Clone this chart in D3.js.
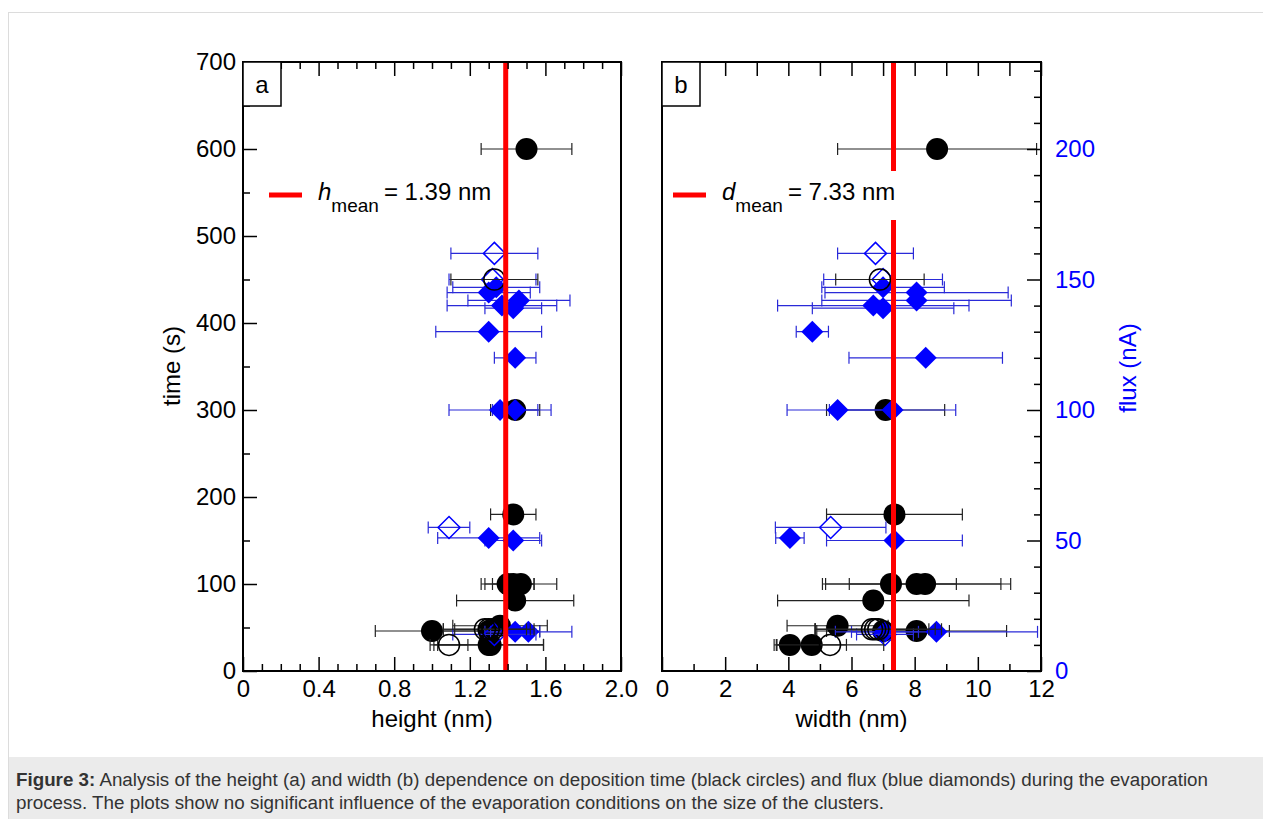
<!DOCTYPE html>
<html>
<head>
<meta charset="utf-8">
<script src="https://cdn.jsdelivr.net/npm/d3@7"></script>
<style>
body { margin: 0; background: #fff; }
svg { display: block; font-family: "Liberation Sans", Arial, sans-serif; }
</style>
</head>
<body>
<div id="chart"></div>
<script>
// time series: [time (s), value (nm), error (nm)]
const heightCircles = [[600,1.50,0.24],[300,1.44,0.13],[180,1.43,0.12],[100,1.40,0.14],[100,1.43,0.11],[100,1.47,0.19],[81,1.44,0.31],[52,1.36,0.25],[46,1.00,0.30],[46,1.30,0.27],[30,1.30,0.29],[30,1.31,0.28]];
const heightCirclesOpen = [[450,1.33,0.23],[48,1.28,0.22],[48,1.30,0.24],[48,1.32,0.20],[30,1.09,0.10]];
const widthCircles = [[600,8.71,3.15],[300,7.08,1.87],[180,7.36,2.15],[100,7.25,2.07],[100,8.06,2.98],[100,8.33,2.40],[81,6.69,3.03],[52,5.56,1.60],[46,8.06,2.85],[46,7.00,2.10],[30,4.05,0.50],[30,4.74,1.10]];
const widthCirclesOpen = [[450,6.90,1.40],[48,6.65,1.80],[48,6.75,1.90],[48,6.85,2.00],[30,5.32,1.70]];

// flux series: [flux (nA), value (nm), error (nm)]
const heightDiamonds = [[147,1.34,0.23],[145,1.30,0.22],[142,1.46,0.27],[140,1.37,0.29],[139,1.43,0.15],[130,1.30,0.28],[120,1.44,0.11],[100,1.36,0.27],[100,1.44,0.12],[51,1.30,0.27],[50,1.43,0.15],[15,1.44,0.13],[15,1.51,0.23]];
const heightDiamondsOpen = [[160,1.33,0.23],[150,1.32,0.23],[55,1.09,0.11],[14,1.33,0.22]];
const widthDiamonds = [[147,7.00,1.94],[145,8.06,2.90],[142,8.06,3.00],[140,6.69,3.03],[139,7.00,2.24],[130,4.76,0.51],[120,8.35,2.43],[100,5.56,1.60],[100,7.30,2.00],[51,4.05,0.45],[50,7.36,2.15],[15,7.06,1.06],[15,8.69,3.20]];
const widthDiamondsOpen = [[160,6.76,1.20],[150,7.00,1.88],[55,5.34,1.75],[14,7.06,0.90]];

const hMean = 1.39;
const dMean = 7.33;

const timeTicks = [0,100,200,300,400,500,600,700];
const timeMinorTicks = [50,150,250,350,450,550,650];
const fluxTicks = [0,50,100,150,200];
const fluxMinorTicks = d3.range(10,240,10).filter(v => v % 50 !== 0);
const heightTicks = [0,0.4,0.8,1.2,1.6,2.0];
const heightMinorTicks = [0.1,0.2,0.3,0.5,0.6,0.7,0.9,1.0,1.1,1.3,1.4,1.5,1.7,1.8,1.9];
const widthTicks = [0,2,4,6,8,10,12];
const widthMinorTicks = [1,3,5,7,9,11];

const W = 1263, H = 819;
const plotTop = 62, plotBottom = 671;

const svg = d3.select("#chart").append("svg")
    .attr("width", W)
    .attr("height", H);

// page frame and caption
svg.append("line").attr("x1", 8).attr("x2", W).attr("y1", 12.5).attr("y2", 12.5).attr("stroke", "#dcdcdc");
svg.append("line").attr("x1", 8.5).attr("x2", 8.5).attr("y1", 12).attr("y2", H).attr("stroke", "#dcdcdc");
svg.append("rect").attr("x", 9).attr("y", 757).attr("width", W - 9).attr("height", H - 757).attr("fill", "#ebebeb");
const cap1 = svg.append("text").attr("x", 16).attr("y", 786).attr("font-size", 18).attr("fill", "#333")
    .attr("textLength", 1192).attr("lengthAdjust", "spacingAndGlyphs");
cap1.append("tspan").attr("font-weight", "bold").text("Figure 3:");
cap1.append("tspan").text(" Analysis of the height (a) and width (b) dependence on deposition time (black circles) and flux (blue diamonds) during the evaporation");
svg.append("text").attr("x", 16).attr("y", 809).attr("font-size", 18).attr("fill", "#333")
    .attr("textLength", 868).attr("lengthAdjust", "spacingAndGlyphs")
    .text("process. The plots show no significant influence of the evaporation conditions on the size of the clusters.");

const y = d3.scaleLinear().domain([0, 700]).range([plotBottom, plotTop]);
const yFlux = d3.scaleLinear().domain([0, 700 / 3]).range([plotBottom, plotTop]);

const blue = "#0000ff";
const diamond = "M0,-11L11,0L0,11L-11,0Z";

function styleAxis(g) {
    g.select(".domain").remove();
    g.attr("font-size", 24).attr("font-family", null);
    g.selectAll("line").attr("stroke-width", 1.5);
}

function errorBars(g, data, x, yy, color) {
    const eb = g.append("g").attr("stroke", color).attr("stroke-width", 1.2);
    data.forEach(d => {
        const cy = yy(d[0]);
        eb.append("line").attr("x1", x(d[1] - d[2])).attr("x2", x(d[1] + d[2])).attr("y1", cy).attr("y2", cy);
        eb.append("line").attr("x1", x(d[1] - d[2])).attr("x2", x(d[1] - d[2])).attr("y1", cy - 6).attr("y2", cy + 6);
        eb.append("line").attr("x1", x(d[1] + d[2])).attr("x2", x(d[1] + d[2])).attr("y1", cy - 6).attr("y2", cy + 6);
    });
}

function drawPanel(o) {
    const x = d3.scaleLinear().domain(o.domain).range([o.left, o.right]);
    const g = svg.append("g");

    // series: filled circles, filled diamonds, open diamonds, open circles
    errorBars(g, o.circles, x, y, "#222");
    g.selectAll(null).data(o.circles).enter().append("circle")
        .attr("cx", d => x(d[1])).attr("cy", d => y(d[0])).attr("r", 11).attr("fill", "#000");
    errorBars(g, o.diamonds, x, yFlux, "#2a2ad8");
    g.selectAll(null).data(o.diamonds).enter().append("path")
        .attr("d", diamond).attr("transform", d => `translate(${x(d[1])},${yFlux(d[0])})`).attr("fill", blue);
    errorBars(g, o.diamondsOpen, x, yFlux, "#2a2ad8");
    g.selectAll(null).data(o.diamondsOpen).enter().append("path")
        .attr("d", diamond).attr("transform", d => `translate(${x(d[1])},${yFlux(d[0])})`)
        .attr("fill", "none").attr("stroke", blue).attr("stroke-width", 1.5);
    errorBars(g, o.circlesOpen, x, y, "#222");
    g.selectAll(null).data(o.circlesOpen).enter().append("circle")
        .attr("cx", d => x(d[1])).attr("cy", d => y(d[0])).attr("r", 10.5)
        .attr("fill", "none").attr("stroke", "#000").attr("stroke-width", 1.5);

    // mean line
    g.append("line").attr("x1", x(o.mean)).attr("x2", x(o.mean)).attr("y1", plotTop).attr("y2", plotBottom)
        .attr("stroke", "#ff0000").attr("stroke-width", 5);

    // bottom axis
    g.append("g").attr("transform", `translate(0,${plotBottom})`)
        .call(d3.axisBottom(x).tickValues(o.ticks).tickSize(-14).tickPadding(9).tickFormat(o.format))
        .call(styleAxis);
    g.append("g").attr("transform", `translate(0,${plotBottom})`)
        .call(d3.axisBottom(x).tickValues(o.minor).tickSize(-7).tickFormat(""))
        .call(styleAxis);
    // top axis
    g.append("g").attr("transform", `translate(0,${plotTop})`)
        .call(d3.axisTop(x).tickValues(o.ticks).tickSize(-14).tickFormat(""))
        .call(styleAxis);
    g.append("g").attr("transform", `translate(0,${plotTop})`)
        .call(d3.axisTop(x).tickValues(o.minor).tickSize(o.topMinor).tickFormat(""))
        .call(styleAxis);

    if (o.timeAxis) {
        g.append("g").attr("transform", `translate(${o.left},0)`)
            .call(d3.axisLeft(y).tickValues(timeTicks).tickSize(-14).tickPadding(7))
            .call(styleAxis);
        g.append("g").attr("transform", `translate(${o.left},0)`)
            .call(d3.axisLeft(y).tickValues(timeMinorTicks).tickSize(-7).tickFormat(""))
            .call(styleAxis);
    }
    if (o.fluxAxis) {
        const fa = g.append("g").attr("transform", `translate(${o.right},0)`)
            .call(d3.axisRight(yFlux).tickValues(fluxTicks).tickSize(-14).tickPadding(14))
            .call(styleAxis);
        fa.selectAll("text").attr("fill", blue);
        g.append("g").attr("transform", `translate(${o.right},0)`)
            .call(d3.axisRight(yFlux).tickValues(fluxMinorTicks).tickSize(-7).tickFormat(""))
            .call(styleAxis);
    }

    // frame
    g.append("rect").attr("x", o.left).attr("y", plotTop).attr("width", o.right - o.left).attr("height", plotBottom - plotTop)
        .attr("fill", "none").attr("stroke", "#000").attr("stroke-width", 2);

    // panel letter
    g.append("rect").attr("x", o.left).attr("y", plotTop).attr("width", 38).attr("height", 44)
        .attr("fill", "#fff").attr("stroke", "#000").attr("stroke-width", 1.5);
    g.append("text").attr("x", o.left + 19).attr("y", plotTop + 31).attr("text-anchor", "middle")
        .attr("font-size", 24).text(o.letter);

    // legend
    const lx = o.left + o.legendOffset;
    const lg = g.append("g");
    const box = lg.append("rect").attr("y", 171).attr("height", 49).attr("fill", "#fff");
    lg.append("line").attr("x1", lx).attr("x2", lx + 33).attr("y1", 195).attr("y2", 195)
        .attr("stroke", "#ff0000").attr("stroke-width", 5);
    const t = lg.append("text").attr("x", lx + 49).attr("y", 200).attr("font-size", 24);
    t.append("tspan").attr("font-style", "italic").text(o.sym);
    t.append("tspan").attr("font-size", 19).attr("dy", 12).text("mean");
    t.append("tspan").attr("dy", -12).attr("dx", 5).text("= " + o.mean.toFixed(2) + " nm");
    const bb = t.node().getBBox();
    box.attr("x", lx - 6).attr("width", bb.x + bb.width + 5 - (lx - 6));

    // axis title
    g.append("text").attr("x", (o.left + o.right) / 2).attr("y", 727).attr("text-anchor", "middle")
        .attr("font-size", 24).text(o.title);
}

drawPanel({
    domain: [0, 2], left: 243, right: 621, ticks: heightTicks, minor: heightMinorTicks, topMinor: -7,
    format: d3.format(".1f"), circles: heightCircles, circlesOpen: heightCirclesOpen,
    diamonds: heightDiamonds, diamondsOpen: heightDiamondsOpen, mean: hMean, legendOffset: 26,
    letter: "a", sym: "h", title: "height (nm)", timeAxis: true, fluxAxis: false
});
drawPanel({
    domain: [0, 12], left: 662, right: 1041, ticks: widthTicks, minor: widthMinorTicks, topMinor: -14,
    format: d3.format("d"), circles: widthCircles, circlesOpen: widthCirclesOpen,
    diamonds: widthDiamonds, diamondsOpen: widthDiamondsOpen, mean: dMean, legendOffset: 11,
    letter: "b", sym: "d", title: "width (nm)", timeAxis: false, fluxAxis: true
});

// "0" on the height axis shows as "0" not "0.0"
svg.selectAll("text").filter(function() { return this.textContent === "0.0"; }).text("0");

svg.append("text").attr("transform", "translate(180,366) rotate(-90)").attr("text-anchor", "middle")
    .attr("font-size", 24).text("time (s)");
svg.append("text").attr("transform", "translate(1136,368) rotate(-90)").attr("text-anchor", "middle")
    .attr("font-size", 24).attr("fill", blue).text("flux (nA)");
</script>
</body>
</html>
